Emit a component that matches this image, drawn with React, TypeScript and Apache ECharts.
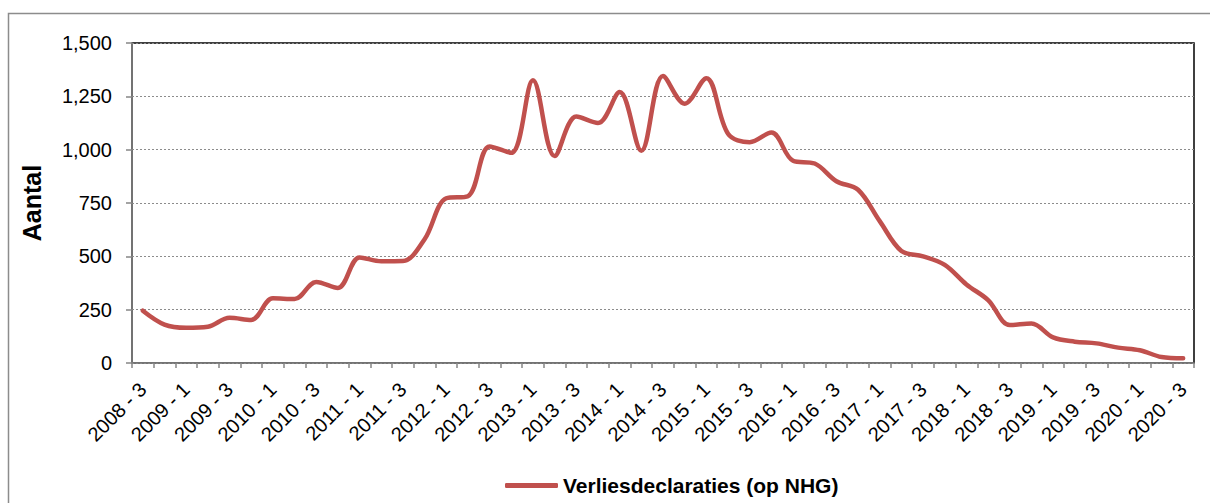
import React, { useEffect, useRef } from "react";
import * as echarts from "echarts";

const categories: string[] = [
  "2008 - 3", "2008 - 4",
  "2009 - 1", "2009 - 2", "2009 - 3", "2009 - 4",
  "2010 - 1", "2010 - 2", "2010 - 3", "2010 - 4",
  "2011 - 1", "2011 - 2", "2011 - 3", "2011 - 4",
  "2012 - 1", "2012 - 2", "2012 - 3", "2012 - 4",
  "2013 - 1", "2013 - 2", "2013 - 3", "2013 - 4",
  "2014 - 1", "2014 - 2", "2014 - 3", "2014 - 4",
  "2015 - 1", "2015 - 2", "2015 - 3", "2015 - 4",
  "2016 - 1", "2016 - 2", "2016 - 3", "2016 - 4",
  "2017 - 1", "2017 - 2", "2017 - 3", "2017 - 4",
  "2018 - 1", "2018 - 2", "2018 - 3", "2018 - 4",
  "2019 - 1", "2019 - 2", "2019 - 3", "2019 - 4",
  "2020 - 1", "2020 - 2", "2020 - 3",
];

const verliesdeclaraties: number[] = [
  245, 180,
  165, 170, 212, 202,
  303, 300, 380, 352,
  495, 477, 478, 580,
  772, 782, 1015, 985,
  1325, 970, 1155, 1125,
  1270, 995, 1345, 1215,
  1335, 1075, 1035, 1080,
  948, 935, 852, 812,
  665, 525, 500, 460,
  368, 295, 178, 185,
  120, 100, 92, 72,
  60, 28, 22,
];

const seriesName = "Verliesdeclaraties (op NHG)";
const yAxisTitle = "Aantal";

const FONT = "'Liberation Sans', Arial, Helvetica, sans-serif";

export default function App() {
  const ref = useRef<HTMLDivElement>(null);
  useEffect(() => {
    if (!ref.current) return;
    const chart = echarts.init(ref.current, null, { renderer: "svg" });
    chart.setOption({
      animation: false,
      backgroundColor: "#ffffff",
      textStyle: { fontFamily: FONT },
      graphic: [
        {
          type: "rect",
          shape: { x: 8.5, y: 13.5, width: 1220, height: 520 },
          style: { fill: "none", stroke: "#8c8c8c", lineWidth: 1.5 },
          silent: true,
          z: 0,
        },
      ],
      grid: {
        left: 132,
        right: 16,
        top: 43,
        bottom: 140,
        show: true,
        borderColor: "#000000",
        borderWidth: 1.5,
        backgroundColor: "transparent",
      },
      legend: {
        show: true,
        left: 500,
        top: 470,
        itemWidth: 53,
        itemHeight: 5,
        icon: "roundRect",
        itemGap: 10,
        textStyle: {
          fontFamily: FONT,
          fontSize: 21,
          fontWeight: "bold",
          color: "#000000",
        },
        data: [
          { name: seriesName, itemStyle: { color: "#C0504D" } },
        ],
      },
      xAxis: {
        type: "category",
        data: categories,
        boundaryGap: true,
        axisLine: { show: true, lineStyle: { color: "#868686", width: 1.5 } },
        axisTick: {
          show: true,
          interval: 0,
          length: 5,
          lineStyle: { color: "#868686", width: 1.5 },
        },
        axisLabel: {
          interval: 1,
          rotate: 45,
          margin: 23,
          fontFamily: FONT,
          fontSize: 20,
          color: "#000000",
        },
        splitLine: { show: false },
      },
      yAxis: {
        type: "value",
        min: 0,
        max: 1500,
        interval: 250,
        name: yAxisTitle,
        nameLocation: "middle",
        nameRotate: 90,
        nameGap: 88,
        nameTextStyle: {
          fontFamily: FONT,
          fontSize: 25,
          fontWeight: "bold",
          color: "#000000",
        },
        axisLine: { show: true, lineStyle: { color: "#868686", width: 1.5 } },
        axisTick: {
          show: true,
          length: 6,
          lineStyle: { color: "#868686", width: 1.5 },
        },
        axisLabel: {
          margin: 20,
          fontFamily: FONT,
          fontSize: 20,
          color: "#000000",
          formatter: (v: number) => v.toLocaleString("en-US"),
        },
        splitLine: {
          show: true,
          lineStyle: { color: "#8c8c8c", type: [2, 2], width: 1.2 },
        },
      },
      series: [
        {
          name: seriesName,
          type: "line",
          data: verliesdeclaraties,
          smooth: 0.35,
          symbol: "none",
          lineStyle: { color: "#C0504D", width: 4.5, cap: "round", join: "round" },
          itemStyle: { color: "#C0504D" },
          z: 3,
        },
      ],
    });
    return () => chart.dispose();
  }, []);
  return (
    <div
      ref={ref}
      style={{ position: "fixed", left: 0, top: 0, width: 1210, height: 503 }}
    />
  );
}
